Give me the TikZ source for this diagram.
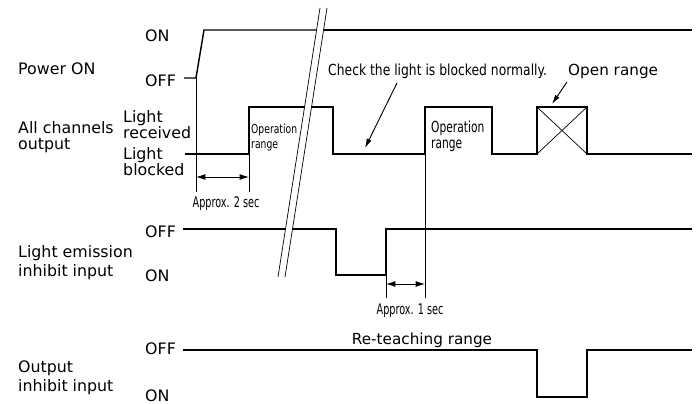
\documentclass[tikz,border=0pt]{standalone}
\usepackage{fontspec}
\setmainfont{DejaVu Sans}
\usepackage{graphicx}
\usetikzlibrary{arrows.meta}
\newcommand{\cond}[2]{\scalebox{#1}[1]{#2}}
\begin{document}
\begin{tikzpicture}[x=0.03cm,y=-0.03cm,
	lbl/.style={anchor=west,inner sep=0pt,align=left,font=\fontsize{13.5}{16}\selectfont},
	tight/.style={font=\fontsize{13.5}{13.5}\selectfont},
	note/.style={inner sep=0pt,font=\fontsize{13}{15}\selectfont},
	sig/.style={line width=2.2pt,line join=miter},
	sigthin/.style={line width=1.2pt,line join=miter},
	guide/.style={line width=0.6pt},
	dim/.style={line width=0.7pt,{Latex[length=8pt,width=5pt]}-{Latex[length=8pt,width=5pt]}},
	call/.style={line width=0.8pt,-{Latex[length=8pt,width=4.5pt]}}]
	\useasboundingbox (0,0) rectangle (697,404);
	\node[lbl] (pwr) at (18,69) {Power ON};
	\node[lbl] (pwron) at (145,36) {ON};
	\node[lbl] (pwroff) at (145,81) {OFF};
	\node[lbl,tight] (allch) at (18,137) {All channels\\output};
	\node[lbl,tight] (recv) at (123,125) {Light\\received};
	\node[lbl,tight] (blk) at (123,162) {Light\\blocked};
	\node[lbl] (emi) at (18,263) {Light emission\\inhibit input};
	\node[lbl] (emioff) at (145,232) {OFF};
	\node[lbl] (emion) at (145,276) {ON};
	\node[lbl] (outinh) at (18,378) {Output\\inhibit input};
	\node[lbl] (outoff) at (145,349) {OFF};
	\node[lbl] (outon) at (145,396) {ON};
	\node[note,anchor=west] (chk) at (328,71) {\cond{0.81}{Check the light is blocked normally.}};
	\node[note,anchor=west] (opn) at (568,71) {Open range};
	\node[note] (retch) at (422,340) {Re-teaching range};
	\node[note,font=\fontsize{12.5}{15}\selectfont] (ap2) at (226,204) {\cond{0.66}{Approx. 2 sec}};
	\node[note,font=\fontsize{12.5}{15}\selectfont] (ap1) at (410,311) {\cond{0.66}{Approx. 1 sec}};
	\node[note,anchor=west,font=\fontsize{10.5}{13}\selectfont] (opr1) at (251,138) {\cond{0.75}{\begin{tabular}{@{}l@{}}Operation\\range\end{tabular}}};
	\node[note,anchor=west,font=\fontsize{13}{13}\selectfont] (opr2) at (431,137) {\cond{0.7}{\begin{tabular}{@{}l@{}}Operation\\range\end{tabular}}};
	\draw[sigthin] (184,78) -- (196,78) -- (204,30) -- (318,30);
	\draw[sig] (318,30) -- (692,30);
	\draw[sig] (185,154) -- (249,154) -- (249,107) -- (333,107) -- (333,154) -- (425,154) -- (425,107) -- (492,107) -- (492,154) -- (537,154) -- (537,107) -- (587,107) -- (587,154) -- (692,154);
	\draw[guide] (537,107) -- (587,154);
	\draw[guide] (537,154) -- (587,107);
	\draw[sig] (183,229) -- (336,229) -- (336,275) -- (386,275) -- (386,229) -- (692,229);
	\draw[sig] (183,350) -- (537,350) -- (537,397) -- (587,397) -- (587,350) -- (692,350);
	\draw[guide] (196,78) -- (196,192);
	\draw[guide] (249,154) -- (249,192);
	\draw[guide] (386,275) -- (386,298);
	\draw[guide] (425,154) -- (425,298);
	\coordinate (a2l) at (196,177);
	\coordinate (a2r) at (249,177);
	\coordinate (a1l) at (386,284);
	\coordinate (a1r) at (425,284);
	\draw[dim] (a2l) -- (a2r);
	\draw[dim] (a1l) -- (a1r);
	\coordinate (chkfrom) at (397,83);
	\coordinate (chkto) at (365,148);
	\coordinate (opnfrom) at (567,82);
	\coordinate (opnto) at (552,104);
	\draw[call] (chkfrom) -- (chkto);
	\draw[call] (opnfrom) -- (opnto);
	\fill[white] (320,8) -- (327,8) -- (285,277) -- (278,277) -- cycle;
	\draw[guide] (320,8) -- (278,277);
	\draw[guide] (327,8) -- (285,277);
\end{tikzpicture}
\end{document}
